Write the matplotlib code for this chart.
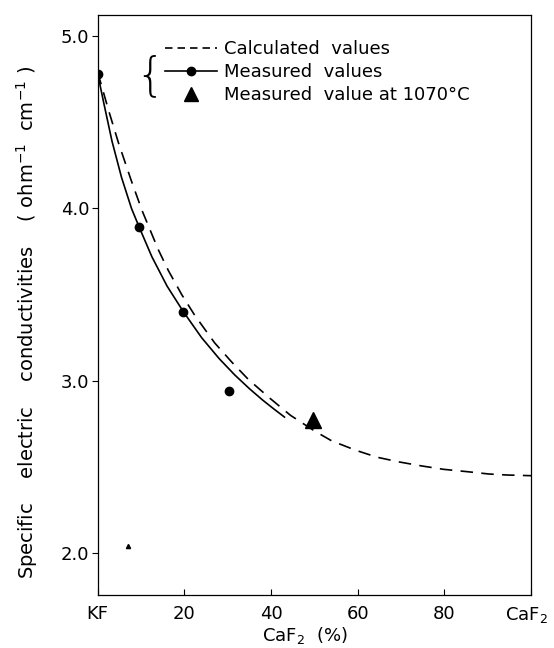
import numpy as np
import matplotlib
matplotlib.use('Agg')
import matplotlib.pyplot as plt
import matplotlib.transforms as mtransforms
from matplotlib.lines import Line2D

plt.rcParams['font.family'] = ['DejaVu Sans']

# measured points (KF side = 0 %, CaF2 side = 100 %)
meas_x = [0, 9.6, 19.8, 30.2]
meas_y = [4.78, 3.89, 3.40, 2.94]

# measured value at 1070 C
tri_x = [49.6]
tri_y = [2.775]

# stray small mark near bottom left
stray_x = [7.1]
stray_y = [2.04]

# solid curve through measured values
solid_x = [0, 1.5, 3.3, 5.5, 7.8, 9.6, 12.5, 16, 19.8, 24, 28, 31.6, 35, 38, 40.5, 43.1]
solid_y = [4.78, 4.60, 4.39, 4.18, 4.00, 3.89, 3.72, 3.55, 3.40, 3.25, 3.13, 3.035, 2.955, 2.89, 2.84, 2.79]

# dashed calculated curve
calc_x = [0, 2.5, 4.8, 7.7, 10.2, 14.0, 16.3, 19.4, 22.4, 27.0, 30.9, 34.7, 39.7, 44.5,
          50.0, 54.0, 59.6, 64.5, 69.5, 74.9, 79.8, 85.4, 90.2, 94.4, 100]
calc_y = [4.79, 4.57, 4.38, 4.165, 3.99, 3.76, 3.64, 3.50, 3.38, 3.22, 3.11, 3.01, 2.90, 2.80,
          2.71, 2.652, 2.597, 2.557, 2.53, 2.506, 2.487, 2.473, 2.46, 2.454, 2.45]

xticks = [0, 20, 40, 60, 80, 100]
xtick_labels = ['KF', '20', '40', '60', '80', 'CaF$_2$']
yticks = [2.0, 3.0, 4.0, 5.0]
ytick_labels = ['2.0', '3.0', '4.0', '5.0']

W, H = 554, 648
fig = plt.figure(figsize=(W / 100, H / 100), dpi=100)
ax = fig.add_axes([97.7 / W, 1 - 595 / H, (531 - 97.7) / W, (595 - 15) / H])

ax.plot(calc_x, calc_y, color='black', lw=1.2, ls=(0, (7.5, 5)))
ax.plot(solid_x, solid_y, color='black', lw=1.2)
ax.plot(meas_x, meas_y, 'o', color='black', ms=6)
ax.plot(tri_x, tri_y, '^', color='black', ms=11)
ax.plot(stray_x, stray_y, '^', color='black', ms=3)

ax.set_xlim(0, 100)
ax.set_ylim(1.758, 5.122)
ax.set_xticks(xticks)
ax.set_xticklabels(xtick_labels)
ax.set_yticks(yticks)
ax.set_yticklabels(ytick_labels)
ax.tick_params(axis='x', direction='in', length=4, width=0.8, labelsize=13, pad=7)
ax.tick_params(axis='y', direction='out', length=4, width=0.8, labelsize=13, pad=2)
for s in ax.spines.values():
    s.set_linewidth(0.9)

# pull the last tick label (CaF2) a little to the left, as in the original
lab = ax.get_xticklabels()[-1]
lab.set_transform(lab.get_transform() + mtransforms.ScaledTranslation(-5 / 100, 0, fig.dpi_scale_trans))

ax.set_xlabel('CaF$_2$  (%)', fontsize=13)
ax.xaxis.set_label_coords(0.478, -0.052)
ax.set_ylabel('Specific    electric    conductivities    ( ohm$^{-1}$  cm$^{-1}$ )', fontsize=14)
ax.yaxis.set_label_coords(-0.133, 0.47)

handles = [
    Line2D([], [], color='black', lw=1.2, ls=(0, (4.5, 3))),
    Line2D([], [], color='black', lw=1.2, marker='o', ms=6),
    Line2D([], [], color='black', lw=0, marker='^', ms=10),
]
labels = ['Calculated  values', 'Measured  values', 'Measured  value at 1070\u00b0C']
ax.legend(handles, labels, loc='upper left', bbox_to_anchor=(165 / W, 1 - 40 / H),
          bbox_transform=fig.transFigure, frameon=False, fontsize=13,
          handlelength=2.9, handletextpad=0.35, labelspacing=0.28,
          borderpad=0, borderaxespad=0)
fig.text(150 / W, 1 - 76 / H, '{', fontsize=33, ha='center', va='center',
         fontweight='light', color='black')

fig.savefig('out.png', dpi=100)
